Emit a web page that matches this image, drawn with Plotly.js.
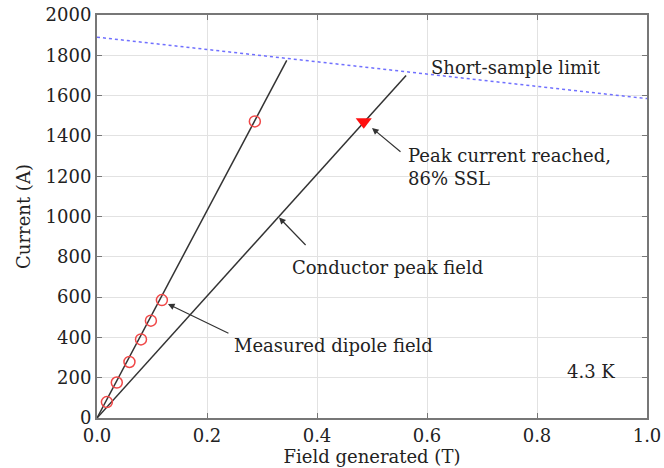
<!DOCTYPE html>
<html>
<head>
<meta charset="utf-8">
<script src="https://cdn.plot.ly/plotly-3.0.1.min.js"></script>
<style>html,body{margin:0;padding:0;background:#fff}#chart{width:664px;height:468px}</style>
</head>
<body>
<div id="chart"></div>
<script>
// Short-sample limit (dotted blue)
const sslX = [0.0, 1.0];
const sslY = [1890, 1585];
// Measured dipole field line
const dipoleLineX = [0.0, 0.345];
const dipoleLineY = [0, 1775];
// Measured dipole field points
const dipoleX = [0.018, 0.036, 0.059, 0.080, 0.098, 0.118, 0.287];
const dipoleY = [79, 176, 278, 390, 483, 585, 1472];
// Conductor peak field line
const peakLineX = [0.0, 0.562];
const peakLineY = [0, 1700];
// Peak current reached
const peakX = [0.485];
const peakY = [1470];

const xTicks = [0, 0.2, 0.4, 0.6, 0.8, 1.0];
const xTickText = ['0.0', '0.2', '0.4', '0.6', '0.8', '1.0'];
const yTicks = [0, 200, 400, 600, 800, 1000, 1200, 1400, 1600, 1800, 2000];

const TXT = '#222';
const FONT = 'DejaVu Serif';

const traces = [
  {x: sslX, y: sslY, mode: 'lines', line: {color: '#7070ff', width: 1.5, dash: 'dot'}, hoverinfo: 'skip'},
  {x: dipoleLineX, y: dipoleLineY, mode: 'lines', line: {color: '#333', width: 1.5}},
  {x: peakLineX, y: peakLineY, mode: 'lines', line: {color: '#333', width: 1.5}},
  {x: dipoleX, y: dipoleY, mode: 'markers', marker: {symbol: 'circle-open', size: 11, color: '#f04848', line: {width: 1.5, color: '#f04848'}}},
  {x: peakX, y: peakY, mode: 'markers', marker: {symbol: 'triangle-down', size: 14, color: '#ff1010'}}
];

const arrowCommon = {showarrow: true, arrowhead: 2, arrowsize: 1.1, arrowwidth: 1.2, arrowcolor: '#333', text: '', xref: 'x', yref: 'y'};
const annFont = {family: FONT, size: 18, color: TXT};

const layout = {
  width: 664, height: 468,
  margin: {l: 97, r: 17, t: 15, b: 50},
  paper_bgcolor: '#fff', plot_bgcolor: '#fff',
  showlegend: false,
  font: {family: FONT, size: 18, color: TXT},
  xaxis: {
    range: [0, 1.0], tickvals: xTicks, ticktext: xTickText,
    showgrid: true, gridcolor: '#e2e2e2', gridwidth: 1,
    showline: true, linecolor: '#777', linewidth: 2, mirror: 'ticks',
    ticks: 'inside', ticklen: 5, tickcolor: '#777',
    zeroline: false, tickfont: {family: FONT, size: 18, color: TXT},
    title: {text: 'Field generated (T)', font: {family: FONT, size: 18, color: TXT}, standoff: 0}
  },
  yaxis: {
    range: [0, 2000], tickvals: yTicks,
    showgrid: true, gridcolor: '#e2e2e2', gridwidth: 1,
    showline: true, linecolor: '#777', linewidth: 2, mirror: 'ticks',
    ticks: 'inside', ticklen: 5, tickcolor: '#777',
    zeroline: false, tickfont: {family: FONT, size: 18, color: TXT},
    title: {text: 'Current (A)', font: {family: FONT, size: 18, color: TXT}, standoff: 10}
  },
  annotations: [
    {x: 0.604, y: 1737, xref: 'x', yref: 'y', text: 'Short-sample limit', showarrow: false, xanchor: 'left', yanchor: 'middle', font: annFont},
    {x: 0.562, y: 1246, xref: 'x', yref: 'y', text: 'Peak current reached,<br>86% SSL', showarrow: false, xanchor: 'left', yanchor: 'middle', align: 'left', font: annFont},
    {x: 0.351, y: 749, xref: 'x', yref: 'y', text: 'Conductor peak field', showarrow: false, xanchor: 'left', yanchor: 'middle', font: annFont},
    {x: 0.245, y: 362, xref: 'x', yref: 'y', text: 'Measured dipole field', showarrow: false, xanchor: 'left', yanchor: 'middle', font: annFont},
    {x: 0.851, y: 233, xref: 'x', yref: 'y', text: '4.3 K', showarrow: false, xanchor: 'left', yanchor: 'middle', font: annFont},
    Object.assign({x: 0.50, y: 1439, ax: 30, ay: 25}, arrowCommon),
    Object.assign({x: 0.331, y: 995, ax: 28, ay: 29}, arrowCommon),
    Object.assign({x: 0.129, y: 566, ax: 62, ay: 30}, arrowCommon)
  ]
};

Plotly.newPlot('chart', traces, layout, {displayModeBar: false, staticPlot: true});
</script>
</body>
</html>
